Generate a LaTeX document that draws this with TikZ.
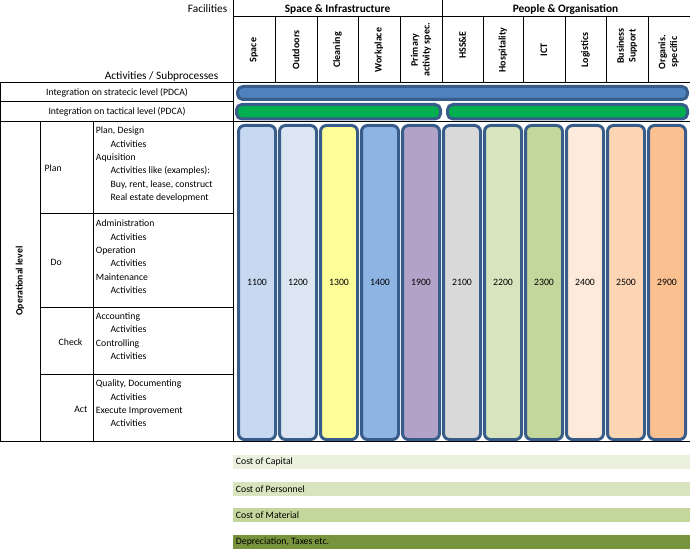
\documentclass[tikz,border=0pt]{standalone}
\usepackage{fontspec}
\setmainfont{Carlito}
\definecolor{PillEdge}{RGB}{56,93,138}
\definecolor{StratBlue}{RGB}{79,129,189}
\definecolor{TactGreen}{RGB}{0,176,80}
\definecolor{SpaceBlue}{RGB}{198,217,241}
\definecolor{OutdoorBlue}{RGB}{220,230,242}
\definecolor{CleanYellow}{RGB}{255,255,153}
\definecolor{WorkBlue}{RGB}{142,180,227}
\definecolor{PrimLilac}{RGB}{179,162,199}
\definecolor{HssGrey}{RGB}{217,217,217}
\definecolor{HospGreen}{RGB}{215,228,189}
\definecolor{IctGreen}{RGB}{195,214,155}
\definecolor{LogPeach}{RGB}{253,234,218}
\definecolor{BusPeach}{RGB}{252,213,181}
\definecolor{OrgOrange}{RGB}{250,192,144}
\definecolor{CostOne}{RGB}{235,241,222}
\definecolor{CostTwo}{RGB}{215,228,189}
\definecolor{CostThree}{RGB}{195,214,155}
\definecolor{CostFour}{RGB}{119,147,60}

\begin{document}
\begin{tikzpicture}[x=0.75pt, y=-0.75pt, font=\fontsize{7.3}{10}\selectfont]
\tikzset{
  gridline/.style={black, line width=0.75pt},
  pill/.style={draw=PillEdge, line width=2.25pt, rounded corners=4.5pt},
  bar/.style={draw=PillEdge, line width=2.25pt, rounded corners=4pt},
  colhead/.style={rotate=90, align=center, font=\fontsize{7.5}{8.7}\selectfont\bfseries},
  headtext/.style={font=\fontsize{8.5}{10}\selectfont},
  celltext/.style={anchor=north west, align=left, inner sep=2pt},
  costlabel/.style={anchor=west, inner sep=2pt}
}
\useasboundingbox (0,0) rectangle (690,549);

% pills
\draw[pill, fill=SpaceBlue]   (238.5,125.5) rectangle (275.5,439.5);
\draw[pill, fill=OutdoorBlue] (279.5,125.5) rectangle (316.5,439.5);
\draw[pill, fill=CleanYellow] (320.5,125.5) rectangle (357.5,439.5);
\draw[pill, fill=WorkBlue]    (361.5,125.5) rectangle (398.5,439.5);
\draw[pill, fill=PrimLilac]   (402.5,125.5) rectangle (439.5,439.5);
\draw[pill, fill=HssGrey]     (443.5,125.5) rectangle (480.5,439.5);
\draw[pill, fill=HospGreen]   (484.5,125.5) rectangle (521.5,439.5);
\draw[pill, fill=IctGreen]    (525.5,125.5) rectangle (562.5,439.5);
\draw[pill, fill=LogPeach]    (566.5,125.5) rectangle (603.5,439.5);
\draw[pill, fill=BusPeach]    (607.5,125.5) rectangle (644.5,439.5);
\draw[pill, fill=OrgOrange]   (648.5,125.5) rectangle (685.5,439.5);
\node (n1100) at (257,282) {1100};
\node (n1200) at (298,282) {1200};
\node (n1300) at (339,282) {1300};
\node (n1400) at (380,282) {1400};
\node (n1900) at (421,282) {1900};
\node (n2100) at (462,282) {2100};
\node (n2200) at (503,282) {2200};
\node (n2300) at (544,282) {2300};
\node (n2400) at (585,282) {2400};
\node (n2500) at (626,282) {2500};
\node (n2900) at (667,282) {2900};

% integration bars
\draw[bar, fill=StratBlue] (237.5,86.5) rectangle (687.5,99.5);
\draw[bar, fill=TactGreen] (236.5,104.5) rectangle (440.5,119);
\draw[bar, fill=TactGreen] (447.5,104.5) rectangle (687.5,119);

% table lines
\draw[gridline] (233,0) -- (233,441);
\draw[gridline] (442,0) -- (442,83);
\draw[gridline] (233,17) -- (690,17);
\draw[gridline] (0,83) -- (690,83);
\draw[gridline] (0,102) -- (233,102);
\draw[gridline] (0,122) -- (690,122);
\draw[gridline] (0,441) -- (690,441);
\draw[gridline] (0,83) -- (0,441);
\draw[gridline] (40,122) -- (40,441);
\draw[gridline] (93,122) -- (93,441);
\draw[gridline] (40,214) -- (233,214);
\draw[gridline] (40,308) -- (233,308);
\draw[gridline] (40,375) -- (233,375);
\draw[gridline] (275,17) -- (275,83);
\draw[gridline] (317,17) -- (317,83);
\draw[gridline] (358,17) -- (358,83);
\draw[gridline] (400,17) -- (400,83);
\draw[gridline] (483,17) -- (483,83);
\draw[gridline] (523,17) -- (523,83);
\draw[gridline] (565,17) -- (565,83);
\draw[gridline] (606,17) -- (606,83);
\draw[gridline] (648,17) -- (648,83);

% headers
\node[headtext, anchor=east] (facilities) at (232,9) {Facilities};
\node[headtext, anchor=east] (activities) at (223,76) {Activities / Subprocesses};
\node[headtext, font=\fontsize{8.5}{10}\selectfont\bfseries] (spaceinfra) at (337.5,9) {Space \& Infrastructure};
\node[headtext, font=\fontsize{8.5}{10}\selectfont\bfseries] (peopleorg) at (565.5,9) {People \& Organisation};
\node[colhead] (hspace)    at (254,50)   {Space};
\node[colhead] (houtdoor)  at (296,50)   {Outdoors};
\node[colhead] (hclean)    at (337.5,50) {Cleaning};
\node[colhead] (hwork)     at (379,50)   {Workplace};
\node[colhead] (hprimary)  at (421,50)   {Primary\\activity spec.};
\node[colhead] (hhsse)     at (462.5,45) {HSS\&E};
\node[colhead] (hhosp)     at (503,50)   {Hospitality};
\node[colhead] (hict)      at (544,50)   {ICT};
\node[colhead] (hlogistic) at (585.5,50) {Logistics};
\node[colhead] (hbusiness) at (627,46)   {Business\\Support};
\node[colhead] (horganis)  at (668.5,52) {Organis.\\specific};

% left side
\node (strategic) at (117,92.5) {Integration on stratecic level (PDCA)};
\node (tactical) at (117,112) {Integration on tactical level (PDCA)};
\node[rotate=90, font=\fontsize{7.3}{10}\selectfont\bfseries] (operational) at (20,281) {Operational level};
\node[anchor=west] (plan) at (40,168) {Plan};
\node[anchor=west] (do) at (46,262) {Do};
\node[anchor=west] (check) at (54,342) {Check};
\node[anchor=east] (act) at (92,409) {Act};
\node[celltext] (plantext) at (93,124) {Plan, Design\\\hspace*{11pt}Activities\\Aquisition\\\hspace*{11pt}Activities like (examples):\\\hspace*{11pt}Buy, rent, lease, construct\\\hspace*{11pt}Real estate development};
\node[celltext] (dotext) at (93,217) {Administration\\\hspace*{11pt}Activities\\Operation\\\hspace*{11pt}Activities\\Maintenance\\\hspace*{11pt}Activities};
\node[celltext] (checktext) at (93,310) {Accounting\\\hspace*{11pt}Activities\\Controlling\\\hspace*{11pt}Activities};
\node[celltext] (acttext) at (93,377) {Quality, Documenting\\\hspace*{11pt}Activities\\Execute Improvement\\\hspace*{11pt}Activities};

% cost bars
\fill[CostOne]   (233,455) rectangle (690,469);
\fill[CostTwo]   (233,482) rectangle (690,496);
\fill[CostThree] (233,508) rectangle (690,522);
\fill[CostFour]  (233,535) rectangle (690,549);
\node[costlabel] (capital) at (233,462) {Cost of Capital};
\node[costlabel] (personnel) at (233,489) {Cost of Personnel};
\node[costlabel] (material) at (233,515) {Cost of Material};
\node[costlabel] (deprec) at (233,542) {Depreciation, Taxes etc.};
\end{tikzpicture}
\end{document}
